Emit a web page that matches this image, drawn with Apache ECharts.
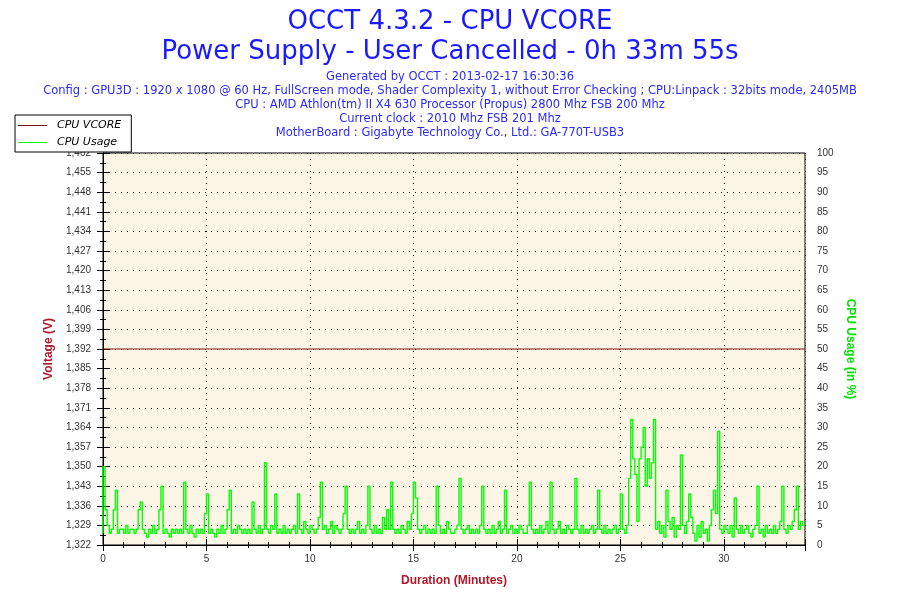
<!DOCTYPE html>
<html><head><meta charset="utf-8">
<script src="https://cdn.jsdelivr.net/npm/echarts@6/dist/echarts.min.js"></script>
<style>html,body{margin:0;padding:0;background:#fff}#c{width:900px;height:600px}</style>
</head><body><div id="c"></div>
<script>
// ---- text ----
const titleLines = ['OCCT 4.3.2 - CPU VCORE', 'Power Supply - User Cancelled - 0h 33m 55s'];
const infoLines = [
  'Generated by OCCT : 2013-02-17 16:30:36',
  'Config : GPU3D : 1920 x 1080 @ 60 Hz, FullScreen mode, Shader Complexity 1, without Error Checking ; CPU:Linpack : 32bits mode, 2405MB',
  'CPU : AMD Athlon(tm) II X4 630 Processor (Propus) 2800 Mhz FSB 200 Mhz',
  'Current clock : 2010 Mhz FSB 201 Mhz',
  'MotherBoard : Gigabyte Technology Co., Ltd.: GA-770T-USB3'
];
const seriesNames = ['CPU VCORE', 'CPU Usage'];
const axisNames = { x: 'Duration (Minutes)', left: 'Voltage (V)', right: 'CPU Usage (in %)' };

// ---- scales / ticks ----
const durationMin = 33.92;        // 0h 33m 55s
const xTickStep = 5;
const voltMin = 1.322, voltMax = 1.462, voltStep = 0.007;
const usageMin = 0, usageMax = 100, usageStep = 5;

// ---- data ----
const vcoreTimes  = [0, 2, 4, 6, 8, 10, 12, 14, 16, 18, 20, 22, 24, 26, 28, 30, 32, 33.92];
const vcoreValues = [1.392, 1.392, 1.392, 1.392, 1.392, 1.392, 1.392, 1.392, 1.392, 1.392, 1.392, 1.392, 1.392, 1.392, 1.392, 1.392, 1.392, 1.392];

const cpuSampleStepMin = 0.1;     // one reading every 6 s
const cpuUsage = [
  3,20,9,5,3,4,9,14,3,4,
  4,3,5,3,4,4,3,4,9,11,
  4,3,2,4,3,5,3,4,9,15,
  3,4,3,2,4,3,4,3,4,3,
  16,4,3,5,3,2,4,3,4,3,
  8,13,3,4,3,2,4,3,5,3,
  4,9,14,3,4,3,5,4,3,4,
  3,4,3,11,4,3,5,3,4,21,
  4,3,5,4,13,3,4,3,5,3,
  4,3,4,5,3,13,4,3,6,4,
  3,5,4,3,4,7,16,4,5,3,
  4,6,3,5,4,3,4,8,15,4,
  3,4,3,4,6,3,4,3,5,15,
  4,3,5,3,4,3,7,4,9,4,
  16,4,3,4,3,5,4,3,6,4,
  8,16,12,4,3,4,5,3,4,3,
  4,3,15,5,3,4,3,6,4,3,
  3,4,5,17,4,3,4,5,3,4,
  3,4,3,5,15,4,3,4,3,5,
  3,4,6,3,4,14,3,4,5,3,
  4,3,5,4,3,3,5,16,4,3,
  4,3,5,3,4,6,3,16,4,3,
  4,6,3,4,3,5,4,3,4,17,
  4,3,5,3,4,3,4,5,3,4,
  14,4,3,5,3,4,3,4,5,3,
  4,13,4,3,5,17,32,22,18,6,
  22,25,30,15,22,17,21,32,4,6,
  3,5,2,14,6,4,7,2,5,4,
  23,5,3,6,13,7,3,1,5,2,
  6,3,4,1,5,9,14,8,29,4,
  3,5,4,3,5,2,12,4,3,5,
  3,4,5,3,2,4,5,15,3,4,
  2,5,3,4,3,5,3,4,6,15,
  4,3,5,4,6,9,15,4,6,5
];

// ---- build ----
// voltage axis drawn in mV above voltMin so ticks start exactly at voltMin
const toMv = v => Math.round((v - voltMin) * 1e6) / 1e3;
const mvMax = toMv(voltMax), mvStep = toMv(voltMin + voltStep);
const vcoreData = vcoreTimes.map((t, i) => [t, toMv(vcoreValues[i])]);
const cpuData = cpuUsage.map((v, i) => [Math.round(i * cpuSampleStepMin * 100) / 100, v]);

const labelFont = 'Liberation Sans';
const black = '#000';
const dotted = { color: black, width: 1, type: [1, 5] };

const baseX = { type: 'value', min: 0, max: durationMin, gridIndex: 0, position: 'bottom' };
const leftY = { type: 'value', min: 0, max: mvMax, interval: mvStep, position: 'left' };
const rightY = { type: 'value', min: usageMin, max: usageMax, interval: usageStep, position: 'right' };

const hidden = { axisLine: { show: false }, axisLabel: { show: false }, splitLine: { show: false } };

const chart = echarts.init(document.getElementById('c'), null, { renderer: 'canvas' });
chart.setOption({
  animation: false,
  backgroundColor: '#fff',
  title: [
    ...titleLines.map((t, i) => ({
      text: t, left: 'center', top: 9 + i * 30, padding: 0,
      textStyle: { fontFamily: 'DejaVu Sans', fontSize: 26, fontWeight: 'normal', color: '#1A1AFF' }
    })),
    ...infoLines.map((t, i) => ({
      text: t, left: 'center', top: 71 + i * 14, padding: 0,
      textStyle: { fontFamily: 'DejaVu Sans', fontSize: 11.5, fontWeight: 'normal', color: '#2B2BF0' }
    }))
  ],
  legend: {
    data: seriesNames.map(n => ({ name: n, icon: 'rect' })),
    orient: 'vertical', left: 15, top: 115,
    padding: [4, 10, 3, 3], itemGap: 4, itemWidth: 29, itemHeight: 1,
    backgroundColor: '#fff', borderColor: black, borderWidth: 1,
    textStyle: { fontFamily: 'DejaVu Sans', fontSize: 11, fontStyle: 'italic', color: black, padding: [0, 0, 0, 5], lineHeight: 13 },
    z: 10
  },
  grid: { left: 103, right: 95, top: 153, bottom: 55, show: true, backgroundColor: '#FDF5E6', borderColor: black, borderWidth: 1 },
  xAxis: [
    Object.assign({}, baseX, {
      interval: xTickStep,
      axisLine: { show: true, lineStyle: { color: black } },
      axisTick: { show: true, length: 6, lineStyle: { color: black } },
      axisLabel: { color: '#333', fontFamily: labelFont, fontSize: 10, margin: 9,
        formatter: v => (Math.abs(v % xTickStep) < 1e-9 ? String(v) : '') },
      splitLine: { show: true, lineStyle: dotted },
      name: axisNames.x, nameLocation: 'middle', nameGap: 30,
      nameTextStyle: { color: '#B0182A', fontFamily: labelFont, fontSize: 12, fontWeight: 'bold' }
    }),
    Object.assign({}, baseX, hidden, { interval: xTickStep, axisTick: { show: true, inside: true, length: 6, lineStyle: { color: black } } }),
    Object.assign({}, baseX, hidden, { interval: 1, axisTick: { show: true, length: 3, lineStyle: { color: black } } }),
    Object.assign({}, baseX, hidden, { interval: 1, axisTick: { show: true, inside: true, length: 3, lineStyle: { color: black } } })
  ],
  yAxis: [
    Object.assign({}, leftY, {
      axisLine: { show: true, lineStyle: { color: black } },
      axisTick: { show: true, length: 6, lineStyle: { color: black } },
      minorTick: { show: true, splitNumber: 2, length: 3, lineStyle: { color: black } },
      axisLabel: { color: '#333', fontFamily: labelFont, fontSize: 10, margin: 12,
        formatter: v => ((voltMin * 1000 + v) / 1000).toFixed(3).replace('.', ',') },
      splitLine: { show: true, lineStyle: dotted },
      name: axisNames.left, nameLocation: 'middle', nameRotate: 90, nameGap: 43,
      nameTextStyle: { color: '#B0182A', fontFamily: labelFont, fontSize: 12, fontWeight: 'bold' }
    }),
    Object.assign({}, rightY, {
      axisLine: { show: true, lineStyle: { color: black } },
      axisTick: { show: true, length: 6, lineStyle: { color: black } },
      minorTick: { show: true, splitNumber: 2, length: 3, lineStyle: { color: black } },
      axisLabel: { color: '#333', fontFamily: labelFont, fontSize: 10, margin: 12 },
      splitLine: { show: false },
      name: axisNames.right, nameLocation: 'middle', nameRotate: -90, nameGap: 34,
      nameTextStyle: { color: '#00E000', fontFamily: labelFont, fontSize: 12, fontWeight: 'bold' }
    }),
    Object.assign({}, leftY, hidden, {
      axisTick: { show: true, inside: true, length: 5, lineStyle: { color: black } },
      minorTick: { show: true, splitNumber: 2, length: 2, lineStyle: { color: black } }
    }),
    Object.assign({}, rightY, hidden, {
      axisTick: { show: true, inside: true, length: 6, lineStyle: { color: black } },
      minorTick: { show: true, splitNumber: 2, length: 3, lineStyle: { color: black } }
    })
  ],
  series: [
    { name: seriesNames[0], type: 'line', xAxisIndex: 0, yAxisIndex: 0, data: vcoreData,
      symbol: 'none', color: '#7B1010', lineStyle: { width: 1, color: '#7B1010' }, z: 3 },
    { name: seriesNames[1], type: 'line', xAxisIndex: 0, yAxisIndex: 1, data: cpuData, step: 'start',
      symbol: 'none', color: '#00FF00', lineStyle: { width: 1.4, color: '#00FF00' }, z: 2 }
  ]
});
</script>
</body></html>
